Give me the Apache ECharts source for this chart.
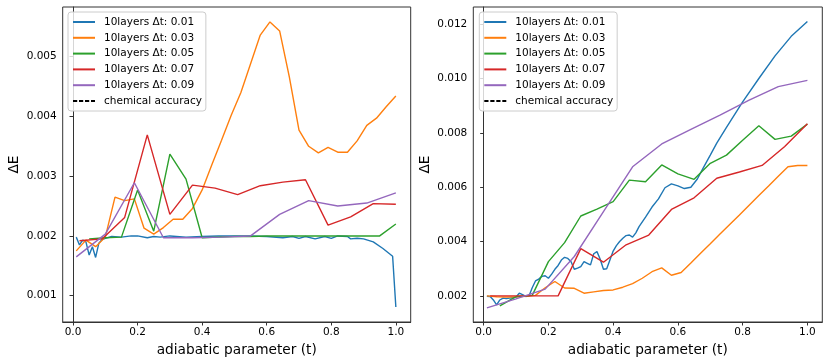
<!DOCTYPE html>
<html>
<head>
<meta charset="utf-8">
<script src="https://cdn.jsdelivr.net/npm/echarts@6/dist/echarts.min.js"></script>
<style>
  html, body { margin: 0; padding: 0; background: #fff; }
  #chart { width: 830px; height: 363px; }
</style>
</head>
<body>
<div id="chart"></div>
<script>
// series labels / colours (matplotlib tab10)
const series_names = ["10layers Δt: 0.01", "10layers Δt: 0.03", "10layers Δt: 0.05", "10layers Δt: 0.07", "10layers Δt: 0.09"];
const series_colors = ["#1f77b4", "#ff7f0e", "#2ca02c", "#d62728", "#9467bd"];
const chem_name = "chemical accuracy";
const chemical_accuracy = 0.002;

// tick labels
const x_ticks = [0.0, 0.2, 0.4, 0.6, 0.8, 1.0];
const left_y_ticks = [0.001, 0.002, 0.003, 0.004, 0.005];
const right_y_ticks = [0.002, 0.004, 0.006, 0.008, 0.010, 0.012];

// x positions per time step
const t_003 = [0.01, 0.04, 0.07, 0.10, 0.13, 0.16, 0.19, 0.22, 0.25, 0.28, 0.31, 0.34, 0.37, 0.40, 0.43, 0.46, 0.49, 0.52, 0.55, 0.58, 0.61, 0.64, 0.67, 0.70, 0.73, 0.76, 0.79, 0.82, 0.85, 0.88, 0.91, 0.94, 0.97, 1.00];
const t_005 = [0.05, 0.10, 0.15, 0.20, 0.25, 0.30, 0.35, 0.40, 0.45, 0.50, 0.55, 0.60, 0.65, 0.70, 0.75, 0.80, 0.85, 0.90, 0.95, 1.00];
const t_007 = [0.02, 0.09, 0.16, 0.23, 0.30, 0.37, 0.44, 0.51, 0.58, 0.65, 0.72, 0.79, 0.86, 0.93, 1.00];
const t_009 = [0.01, 0.10, 0.19, 0.28, 0.37, 0.46, 0.55, 0.64, 0.73, 0.82, 0.91, 1.00];

// left panel
const left_t_001 = [0.01, 0.02, 0.03, 0.04, 0.05, 0.06, 0.07, 0.08, 0.09, 0.10, 0.12, 0.15, 0.18, 0.20, 0.23, 0.25, 0.27, 0.30, 0.35, 0.40, 0.45, 0.50, 0.55, 0.60, 0.65, 0.68, 0.70, 0.72, 0.75, 0.78, 0.80, 0.82, 0.85, 0.86, 0.88, 0.90, 0.93, 0.96, 0.99, 1.00];
const left_dE_001 = [0.00198, 0.00185, 0.00193, 0.00190, 0.00168, 0.00182, 0.00164, 0.00188, 0.00194, 0.00196, 0.00199, 0.00198, 0.00200, 0.00200, 0.00197, 0.00199, 0.00198, 0.00200, 0.00198, 0.00199, 0.00200, 0.00200, 0.00200, 0.00199, 0.00197, 0.00199, 0.00196, 0.00199, 0.00195, 0.00199, 0.00196, 0.00200, 0.00199, 0.00195, 0.00196, 0.00195, 0.00190, 0.00179, 0.00166, 0.00081];
const left_dE_003 = [0.00175, 0.00193, 0.00182, 0.00198, 0.00265, 0.00259, 0.00262, 0.00213, 0.00203, 0.00214, 0.00228, 0.00228, 0.00246, 0.00277, 0.00319, 0.00360, 0.00402, 0.00440, 0.00488, 0.00536, 0.00558, 0.00543, 0.00466, 0.00377, 0.00350, 0.00339, 0.00348, 0.00340, 0.00340, 0.00359, 0.00385, 0.00397, 0.00416, 0.00434];
const left_dE_005 = [0.00195, 0.00197, 0.00198, 0.00277, 0.00208, 0.00337, 0.00295, 0.00197, 0.00198, 0.00199, 0.00199, 0.00200, 0.00200, 0.00200, 0.00200, 0.00200, 0.00200, 0.00200, 0.00200, 0.00220];
const left_dE_007 = [0.00192, 0.00195, 0.00231, 0.00369, 0.00236, 0.00285, 0.00280, 0.00269, 0.00284, 0.00290, 0.00294, 0.00218, 0.00232, 0.00254, 0.00253];
const left_dE_009 = [0.00165, 0.00203, 0.00289, 0.00197, 0.00197, 0.00198, 0.00200, 0.00236, 0.00259, 0.00250, 0.00255, 0.00272];

// right panel
const right_t_001 = [0.01, 0.02, 0.03, 0.04, 0.05, 0.06, 0.07, 0.08, 0.09, 0.10, 0.11, 0.12, 0.13, 0.14, 0.15, 0.16, 0.17, 0.18, 0.19, 0.20, 0.21, 0.22, 0.23, 0.24, 0.25, 0.26, 0.27, 0.28, 0.29, 0.30, 0.31, 0.32, 0.33, 0.34, 0.35, 0.36, 0.37, 0.38, 0.39, 0.40, 0.41, 0.42, 0.43, 0.44, 0.45, 0.46, 0.47, 0.48, 0.50, 0.52, 0.54, 0.56, 0.58, 0.60, 0.62, 0.64, 0.66, 0.68, 0.70, 0.72, 0.75, 0.80, 0.85, 0.90, 0.95, 1.00];
const right_dE_001 = [0.00199, 0.00198, 0.00185, 0.00167, 0.00185, 0.00192, 0.00190, 0.00192, 0.00193, 0.00196, 0.00210, 0.00205, 0.00198, 0.00200, 0.00230, 0.00255, 0.00262, 0.00272, 0.00274, 0.00265, 0.00280, 0.00298, 0.00312, 0.00332, 0.00342, 0.00338, 0.00326, 0.00298, 0.00302, 0.00308, 0.00326, 0.00320, 0.00314, 0.00355, 0.00363, 0.00335, 0.00298, 0.00300, 0.00332, 0.00365, 0.00385, 0.00400, 0.00412, 0.00422, 0.00424, 0.00416, 0.00432, 0.00455, 0.00490, 0.00527, 0.00557, 0.00598, 0.00612, 0.00605, 0.00595, 0.00600, 0.00630, 0.00675, 0.00718, 0.00762, 0.00820, 0.00914, 0.01000, 0.01083, 0.01155, 0.01210];
const right_dE_003 = [0.00200, 0.00197, 0.00196, 0.00197, 0.00199, 0.00202, 0.00230, 0.00253, 0.00229, 0.00228, 0.00210, 0.00215, 0.00220, 0.00222, 0.00232, 0.00245, 0.00265, 0.00289, 0.00303, 0.00276, 0.00286, 0.00321, 0.00357, 0.00392, 0.00428, 0.00463, 0.00498, 0.00534, 0.00569, 0.00604, 0.00640, 0.00675, 0.00680, 0.00680];
const right_dE_005 = [0.00163, 0.00197, 0.00202, 0.00326, 0.00396, 0.00494, 0.00519, 0.00547, 0.00626, 0.00620, 0.00682, 0.00649, 0.00629, 0.00688, 0.00718, 0.00773, 0.00826, 0.00776, 0.00788, 0.00832];
const right_dE_007 = [0.00200, 0.00200, 0.00200, 0.00200, 0.00374, 0.00324, 0.00388, 0.00424, 0.00518, 0.00561, 0.00633, 0.00656, 0.00680, 0.00750, 0.00833];
const right_dE_009 = [0.00156, 0.00189, 0.00225, 0.00345, 0.00510, 0.00675, 0.00759, 0.00813, 0.00865, 0.00920, 0.00970, 0.00993];

const chart = echarts.init(document.getElementById("chart"), null, { renderer: "canvas" });

const font = "DejaVu Sans";
const frame = "#333";

function pairs(xs, ys) {
  return xs.map((x, i) => [x, ys[i]]);
}

function line(idx, xs, ys, panel) {
  return {
    name: series_names[idx],
    type: "line",
    xAxisIndex: panel,
    yAxisIndex: panel,
    data: pairs(xs, ys),
    symbol: "none",
    smooth: false,
    lineStyle: { color: series_colors[idx], width: 1.4 },
    itemStyle: { color: series_colors[idx] },
    z: 2 + idx,
  };
}

function chemLine(panel) {
  return {
    name: chem_name,
    type: "line",
    xAxisIndex: panel,
    yAxisIndex: panel,
    data: [],
    symbol: "none",
    lineStyle: { color: "#000", width: 1.3, type: [4.2, 1.8] },
    itemStyle: { color: "#000" },
    z: 10,
    markLine: {
      silent: true,
      symbol: "none",
      label: { show: false },
      lineStyle: { color: "#000", width: 1.3, type: [4.2, 1.8] },
      data: [{ yAxis: chemical_accuracy }],
    },
  };
}

function xAxis(panel) {
  return {
    type: "value",
    gridIndex: panel,
    min: -0.032,
    max: 1.046,
    name: "adiabatic parameter (t)",
    nameLocation: "middle",
    nameGap: 21,
    nameTextStyle: { fontFamily: font, fontSize: 13.7, color: "#000" },
    splitLine: { show: false },
    axisLine: { show: true, lineStyle: { color: frame, width: 1 } },
    axisTick: { show: true, length: 3.5, customValues: x_ticks, lineStyle: { color: frame } },
    axisLabel: {
      customValues: x_ticks,
      margin: 5,
      fontFamily: font,
      fontSize: 10.5,
      color: "#000",
      formatter: (v) => v.toFixed(1),
    },
  };
}

function yAxis(panel, lo, hi, ticks) {
  return {
    type: "value",
    gridIndex: panel,
    min: lo,
    max: hi,
    name: "ΔE",
    nameLocation: "middle",
    nameGap: 41,
    nameTextStyle: { fontFamily: font, fontSize: 13.7, color: "#000" },
    splitLine: { show: false },
    axisLine: { show: true, lineStyle: { color: frame, width: 1 } },
    axisTick: { show: true, length: 3.5, customValues: ticks, lineStyle: { color: frame } },
    axisLabel: {
      customValues: ticks,
      margin: 6,
      fontFamily: font,
      fontSize: 10.5,
      color: "#000",
      formatter: (v) => v.toFixed(3),
    },
  };
}

function legend(left) {
  return {
    orient: "vertical",
    left: left,
    top: 12,
    data: series_names.concat([chem_name]),
    itemWidth: 22,
    itemHeight: 8,
    itemGap: 3.8,
    padding: [4, 4, 4, 4],
    backgroundColor: "rgba(255,255,255,0.8)",
    borderColor: "#cccccc",
    borderWidth: 1,
    borderRadius: 3,
    selectedMode: false,
    // hide the marker dot, keep only the line sample
    itemStyle: { color: "rgba(0,0,0,0)", borderWidth: 0, opacity: 0 },
    textStyle: { fontFamily: font, fontSize: 10.5, color: "#000", lineHeight: 12, padding: [0, 0, 0, 4] },
  };
}

chart.setOption({
  animation: false,
  backgroundColor: "#fff",
  grid: [
    { left: 62.7, top: 7, width: 348, height: 315, show: true, borderColor: frame, borderWidth: 1, backgroundColor: "transparent" },
    { left: 473.3, top: 7, width: 349, height: 315, show: true, borderColor: frame, borderWidth: 1, backgroundColor: "transparent" },
  ],
  legend: [legend(68), legend(479.3)],
  xAxis: [xAxis(0), xAxis(1)],
  yAxis: [
    yAxis(0, 0.00056, 0.00583, left_y_ticks),
    yAxis(1, 0.00104, 0.01263, right_y_ticks),
  ],
  series: [
    line(0, left_t_001, left_dE_001, 0),
    line(1, t_003, left_dE_003, 0),
    line(2, t_005, left_dE_005, 0),
    line(3, t_007, left_dE_007, 0),
    line(4, t_009, left_dE_009, 0),
    chemLine(0),
    line(0, right_t_001, right_dE_001, 1),
    line(1, t_003, right_dE_003, 1),
    line(2, t_005, right_dE_005, 1),
    line(3, t_007, right_dE_007, 1),
    line(4, t_009, right_dE_009, 1),
    chemLine(1),
  ],
});
</script>
</body>
</html>
